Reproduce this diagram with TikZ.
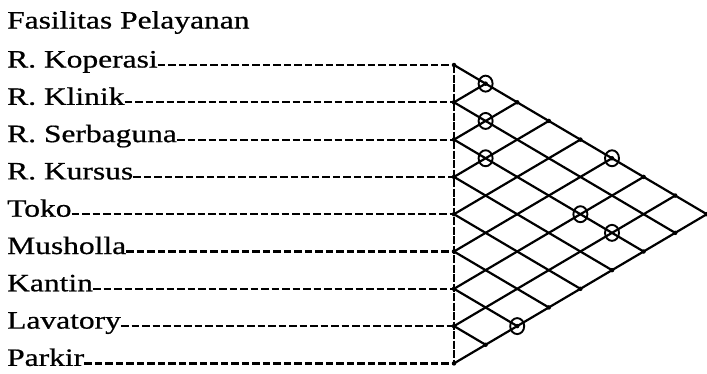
\documentclass[tikz,border=0pt]{standalone}
\usepackage{fontspec}
\setmainfont{Liberation Serif}
\usetikzlibrary{shapes.geometric}
\begin{document}
\begin{tikzpicture}[x=1pt,y=-1pt,
  lbl/.style={font=\fontsize{25}{25}\selectfont\addfontfeatures{FakeBold=0.6}, anchor=base west, inner sep=0pt},
  leader/.style={line width=2.2pt, dash pattern=on 7.5pt off 3pt},
  axisline/.style={line width=1.2pt, dash pattern=on 8pt off 1.5pt},
  gridline/.style={line width=2.2pt, line cap=round},
  ringmark/.style={ellipse, draw, line width=1.9pt, minimum width=14pt, minimum height=16pt, inner sep=0pt},
  joint/.style={circle, fill, inner sep=0pt, minimum size=4.5pt}]
\useasboundingbox (0,0) rectangle (707,373);
\def\yo{65}\def\dy{37.3}\def\dx{31.6}\def\xv{454}
\node[lbl] (title) at (7,28.5) {\scalebox{1.26}[1]{Fasilitas Pelayanan}};
\foreach \lab [count=\i from 0] in {R. Koperasi, R. Klinik, R. Serbaguna, R. Kursus, Toko, Musholla, Kantin, Lavatory, Parkir} {
  \coordinate (V\i) at (\xv, \yo+\i*\dy);
  \node[lbl] (t\i) at (7, \yo+\i*\dy+2.5) {\scalebox{1.26}[1]{\lab}};
  \draw[leader] (t\i.east |- V\i) -- (V\i);
}
\foreach \i in {0,...,8} {
  \foreach \j in {\i,...,8} {
    \coordinate (P\i-\j) at (\xv+\j*\dx-\i*\dx, \yo+\i*\dy/2+\j*\dy/2);
  }
}
\draw[axisline] (V0) -- (V8);
\foreach \i in {0,...,7} \draw[gridline] (P\i-\i) -- (P\i-8);
\foreach \i in {1,...,8} \draw[gridline] (P\i-\i) -- (P0-\i);
\foreach \j in {1,...,8} \node[joint] (jt\j) at (P0-\j) {};
\foreach \i in {1,...,7} \node[joint] (jb\i) at (P\i-8) {};
\foreach \i in {0,...,8} \node[joint] (jl\i) at (V\i) {};
\node[ringmark] (c1) at (P0-1) {};
\node[ringmark] (c2) at (P1-2) {};
\node[ringmark] (c3) at (P2-3) {};
\node[ringmark] (c4) at (P0-5) {};
\node[ringmark] (c5) at (P2-6) {};
\node[ringmark] (c6) at (P2-7) {};
\node[ringmark] (c7) at (P6-8) {};
\end{tikzpicture}
\end{document}
